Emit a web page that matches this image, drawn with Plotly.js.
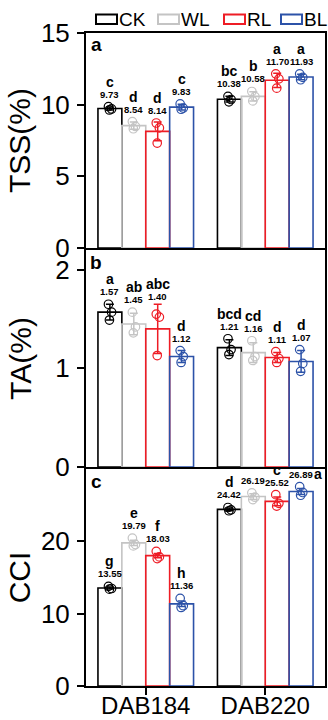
<!DOCTYPE html>
<html><head><meta charset="utf-8">
<script src="https://cdn.plot.ly/plotly-3.0.1.min.js"></script>
<style>html,body{margin:0;padding:0;background:#fff;} #chart{width:328px;height:720px;}</style>
</head><body><div id="chart"></div>
<script>
// ---------------- DATA ----------------
const categories = ['DAB184', 'DAB220'];
const treatments = ['CK', 'WL', 'RL', 'BL'];

// TSS (%)
const tssMean = {CK: [9.73, 10.38], WL: [8.54, 10.58], RL: [8.14, 11.70], BL: [9.83, 11.93]};
const tssSD   = {CK: [0.10, 0.20], WL: [0.25, 0.32], RL: [0.65, 0.50], BL: [0.20, 0.20]};
const tssPts  = {
  CK: [[9.86, 9.70, 9.63], [10.58, 10.36, 10.20]],
  WL: [[8.82, 8.48, 8.32], [10.92, 10.56, 10.26]],
  RL: [[8.72, 8.38, 7.32], [12.15, 11.80, 11.15]],
  BL: [[10.05, 9.76, 9.68], [12.15, 11.90, 11.74]]
};
const tssLetters = {CK: ['c', 'bc'], WL: ['d', 'b'], RL: ['d', 'a'], BL: ['c', 'a']};

// TA (%)
const taMean = {CK: [1.57, 1.21], WL: [1.45, 1.16], RL: [1.40, 1.11], BL: [1.12, 1.07]};
const taSD   = {CK: [0.08, 0.08], WL: [0.11, 0.10], RL: [0.25, 0.05], BL: [0.06, 0.11]};
const taPts  = {
  CK: [[1.65, 1.57, 1.49], [1.30, 1.19, 1.14]],
  WL: [[1.57, 1.42, 1.36], [1.28, 1.12, 1.08]],
  RL: [[1.55, 1.52, 1.13], [1.17, 1.10, 1.06]],
  BL: [[1.18, 1.12, 1.06], [1.19, 1.05, 0.97]]
};
const taLetters = {CK: ['a', 'bcd'], WL: ['ab', 'cd'], RL: ['abc', 'd'], BL: ['d', 'd']};

// CCI
const cciMean = {CK: [13.55, 24.42], WL: [19.79, 26.19], RL: [18.03, 25.52], BL: [11.36, 26.89]};
const cciSD   = {CK: [0.15, 0.18], WL: [0.35, 0.40], RL: [0.30, 0.60], BL: [0.38, 0.40]};
const cciPts  = {
  CK: [[13.78, 13.48, 13.39], [24.68, 24.35, 24.23]],
  WL: [[20.45, 19.55, 19.37], [26.70, 26.10, 25.77]],
  RL: [[18.62, 17.85, 17.62], [26.45, 25.25, 24.86]],
  BL: [[12.12, 11.10, 10.86], [27.55, 26.75, 26.37]]
};
const cciLetters = {CK: ['g', 'd'], WL: ['e', 'b'], RL: ['f', 'c'], BL: ['h', 'a']};

const yTicksTSS = [0, 5, 10, 15];
const yTicksTA = [0, 1, 2];
const yTicksCCI = [0, 10, 20];

// ---------------- STYLE / LAYOUT ----------------
const colors = {CK: '#000000', WL: '#c4c4c4', RL: '#ee1c25', BL: '#2c52a8'};
const FONT = "'Liberation Sans', Arial, sans-serif";
const W = 328, H = 720, L = 86, R = 3, T = 33, B = 34;
const plotH = H - T - B, plotW = W - L - R;
const barOffset = {CK: -0.3, WL: -0.1, RL: 0.1, BL: 0.3};
const jitter = [-0.012, 0.014, -0.004];

const panels = [
  {name: 'a', title: 'TSS(%)', mean: tssMean, sd: tssSD, pts: tssPts, letters: tssLetters,
   top: 33, bottom: 248, range: [0, 15], ticks: yTicksTSS, standoff: 1, x: 'x', y: 'y'},
  {name: 'b', title: 'TA(%)', mean: taMean, sd: taSD, pts: taPts, letters: taLetters,
   top: 250, bottom: 467, range: [0, 2.2], ticks: yTicksTA, standoff: 15, x: 'x2', y: 'y2'},
  {name: 'c', title: 'CCI', mean: cciMean, sd: cciSD, pts: cciPts, letters: cciLetters,
   top: 469, bottom: 686, range: [0, 30], ticks: yTicksCCI, standoff: 1, x: 'x3', y: 'y3'}
];

const toPx = (p, v) => p.bottom - (v - p.range[0]) / (p.range[1] - p.range[0]) * (p.bottom - p.top);
const toVal = (p, px) => p.range[0] + (p.bottom - px) / (p.bottom - p.top) * (p.range[1] - p.range[0]);

const traces = [];
const annotations = [];
const shapes = [];
const layout = {
  width: W, height: H,
  margin: {l: L, r: R, t: T, b: B, pad: 0},
  paper_bgcolor: '#ffffff', plot_bgcolor: 'rgba(0,0,0,0)',
  showlegend: false,
  barmode: 'group', bargap: 0.2, bargroupgap: 0,
  font: {family: FONT, color: '#000'}
};

panels.forEach((p, pi) => {
  const yKey = pi === 0 ? 'yaxis' : 'yaxis' + (pi + 1);
  const xKey = pi === 0 ? 'xaxis' : 'xaxis' + (pi + 1);
  layout[yKey] = {
    domain: [(T + plotH - p.bottom) / plotH, (T + plotH - p.top) / plotH],
    anchor: p.x, range: p.range, tickvals: p.ticks,
    ticks: 'outside', ticklen: 7, tickwidth: 2, tickcolor: '#000',
    showline: true, linewidth: 2, linecolor: '#000', mirror: true,
    showgrid: false, zeroline: false,
    tickfont: {size: 26, family: FONT, color: '#000'},
    ticklabelstandoff: 2,
    title: {text: p.title, font: {size: 30, family: FONT, color: '#000'}, standoff: p.standoff}
  };
  const isBottom = pi === panels.length - 1;
  layout[xKey] = {
    anchor: p.y, range: [-0.5, 1.5],
    showline: true, linewidth: 2, linecolor: '#000', mirror: true,
    showgrid: false, zeroline: false,
    tickvals: [0, 1], ticktext: categories,
    showticklabels: isBottom, ticks: isBottom ? 'outside' : '',
    ticklen: 7, tickwidth: 2, tickcolor: '#000',
    ticklabelstandoff: -10,
    tickfont: {size: 24, family: FONT, color: '#000'}
  };
  if (pi > 0) layout[xKey].matches = 'x';

  treatments.forEach(t => {
    traces.push({
      type: 'bar', x: [0, 1], y: p.mean[t], xaxis: p.x, yaxis: p.y, name: t,
      marker: {color: 'rgba(255,255,255,0)', line: {color: colors[t], width: 1.6}},
      error_y: {type: 'data', array: p.sd[t], visible: true, color: colors[t], thickness: 1.5, width: 4},
      hoverinfo: 'skip'
    });
  });
  treatments.forEach(t => {
    const xs = [], ys = [];
    p.pts[t].forEach((reps, ci) => {
      reps.forEach((v, k) => { xs.push(ci + barOffset[t] + jitter[k]); ys.push(v); });
    });
    traces.push({
      type: 'scatter', mode: 'markers', x: xs, y: ys, xaxis: p.x, yaxis: p.y,
      marker: {symbol: 'circle-open', size: 8.5, color: colors[t], line: {width: 1.2, color: colors[t]}},
      hoverinfo: 'skip'
    });
  });

  // significance letters and mean labels
  treatments.forEach(t => {
    p.mean[t].forEach((m, ci) => {
      const errTop = toPx(p, m + p.sd[t][ci]);
      const ptTop = toPx(p, Math.max(...p.pts[t][ci])) - 4.5;
      const valPx = Math.min(errTop, ptTop) - 8;
      const letPx = valPx - 12.5;
      const xc = ci + barOffset[t];
      annotations.push({
        xref: 'x', yref: p.y, x: xc, y: toVal(p, valPx), showarrow: false,
        xanchor: 'center', yanchor: 'middle',
        text: '<b>' + m.toFixed(2) + '</b>', font: {size: 9.5, family: FONT, color: '#000'}
      });
      const beside = letPx < p.top - 3;
      annotations.push({
        xref: 'x', yref: p.y, x: xc, y: toVal(p, beside ? valPx : letPx), showarrow: false,
        xanchor: 'center', yanchor: 'middle', xshift: beside ? 17 : 0,
        text: '<b>' + p.letters[t][ci] + '</b>', font: {size: 14, family: FONT, color: '#000'}
      });
    });
  });

  // panel letter
  annotations.push({
    xref: 'paper', yref: 'paper', x: (96 - L) / plotW, y: (T + plotH - (p.top + 12)) / plotH,
    xanchor: 'center', yanchor: 'middle', showarrow: false,
    text: '<b>' + p.name + '</b>', font: {size: 19, family: FONT, color: '#000'}
  });
});

// manual legend
const legendX = {CK: 96, WL: 158, RL: 224, BL: 281};
treatments.forEach(t => {
  const x0 = legendX[t];
  shapes.push({
    type: 'rect', xref: 'paper', yref: 'paper',
    x0: (x0 - L) / plotW, x1: (x0 + 21 - L) / plotW,
    y0: (T + plotH - 24) / plotH, y1: (T + plotH - 14.5) / plotH,
    line: {color: colors[t], width: 2}, fillcolor: 'rgba(0,0,0,0)'
  });
  annotations.push({
    xref: 'paper', yref: 'paper', x: (x0 + 21 - L) / plotW, y: (T + plotH - 19.5) / plotH,
    xanchor: 'left', yanchor: 'middle', showarrow: false,
    text: t, font: {size: 19, family: FONT, color: '#000'}
  });
});

layout.annotations = annotations;
layout.shapes = shapes;

Plotly.newPlot('chart', traces, layout, {staticPlot: true, displayModeBar: false});
</script>
</body></html>
